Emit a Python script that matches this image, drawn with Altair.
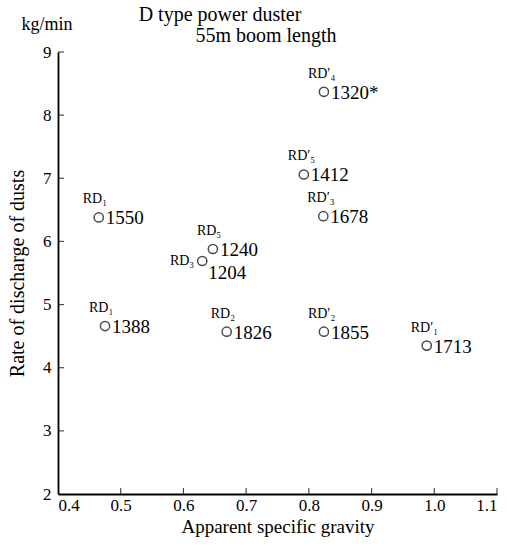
import altair as alt
import pandas as pd

# Dust samples: name, apparent specific gravity, discharge rate (kg/min), sample code
names = ["RD₁", "RD₁", "RD₅", "RD₃", "RD₂", "RD′₂", "RD′₁", "RD′₃", "RD′₅", "RD′₄"]
gravity = [0.465, 0.475, 0.647, 0.630, 0.669, 0.824, 0.988, 0.823, 0.792, 0.824]
rate = [6.38, 4.66, 5.88, 5.69, 4.57, 4.57, 4.35, 6.40, 7.06, 8.37]
codes = ["1550", "1388", "1240", "1204", "1826", "1855", "1713", "1678", "1412", "1320*"]

x_ticks = [0.4, 0.5, 0.6, 0.7, 0.8, 0.9, 1.0, 1.1]
y_ticks = [2, 3, 4, 5, 6, 7, 8, 9]

df = pd.DataFrame({"name": names, "gravity": gravity, "rate": rate, "code": codes})
xt = pd.DataFrame({"t": x_ticks[1:]})
yt = pd.DataFrame({"t": y_ticks[1:]})

FONT = "Liberation Serif, Times New Roman, serif"

xscale = alt.Scale(domain=[0.4, 1.1], nice=False, zero=False)
yscale = alt.Scale(domain=[2, 9], nice=False, zero=False)

x_enc = alt.X(
    "gravity:Q",
    scale=xscale,
    axis=alt.Axis(
        values=x_ticks, format=".1f", ticks=False, grid=False,
        domainColor="black", domainWidth=1.8,
        labelFont=FONT, labelFontSize=17, labelColor="black", labelPadding=3,
        title="Apparent specific gravity", titleFont=FONT, titleFontSize=19,
        titleFontWeight="normal", titleColor="black", titlePadding=4,
    ),
)
y_enc = alt.Y(
    "rate:Q",
    scale=yscale,
    axis=alt.Axis(
        values=y_ticks, format="d", ticks=False, grid=False,
        domainColor="black", domainWidth=1.8,
        labelFont=FONT, labelFontSize=17, labelColor="black", labelPadding=7,
        title="Rate of discharge of dusts", titleFont=FONT, titleFontSize=20,
        titleFontWeight="normal", titleColor="black", titlePadding=15,
    ),
)

base = alt.Chart(df)

points = base.mark_point(
    shape="circle", filled=False, size=85, strokeWidth=1.5, color="black"
).encode(x=x_enc, y=y_enc)

code_right = base.transform_filter("datum.code != '1204'").mark_text(
    align="left", baseline="middle", dx=7, dy=1, font=FONT, fontSize=19, color="black"
).encode(x="gravity:Q", y="rate:Q", text="code:N")

code_below = base.transform_filter("datum.code == '1204'").mark_text(
    align="left", baseline="middle", dx=6, dy=12, font=FONT, fontSize=19, color="black"
).encode(x="gravity:Q", y="rate:Q", text="code:N")

name_above = base.transform_filter("datum.code != '1204'").mark_text(
    align="left", baseline="middle", dx=-16, dy=-18, font=FONT, fontSize=14, color="black"
).encode(x="gravity:Q", y="rate:Q", text="name:N")

name_left = base.transform_filter("datum.code == '1204'").mark_text(
    align="right", baseline="middle", dx=-8, dy=0, font=FONT, fontSize=14, color="black"
).encode(x="gravity:Q", y="rate:Q", text="name:N")

# inward tick marks on both axes
x_tick_marks = alt.Chart(xt).mark_tick(
    orient="vertical", size=6, thickness=1.2, yOffset=-3, color="black"
).encode(x=alt.X("t:Q", scale=xscale), y=alt.datum(2, scale=yscale))

y_tick_marks = alt.Chart(yt).mark_tick(
    orient="horizontal", size=6, thickness=1.2, xOffset=3, color="black"
).encode(y=alt.Y("t:Q", scale=yscale), x=alt.datum(0.4, scale=xscale))

# heading lines and unit label
heading = alt.Chart(pd.DataFrame({"s": ["D type power duster"]})).mark_text(
    font=FONT, fontSize=20, color="black", align="center", baseline="middle"
).encode(text="s:N", x=alt.value(162), y=alt.value(-37))

subheading = alt.Chart(pd.DataFrame({"s": ["55m boom length"]})).mark_text(
    font=FONT, fontSize=20, color="black", align="center", baseline="middle"
).encode(text="s:N", x=alt.value(208), y=alt.value(-16))

unit = alt.Chart(pd.DataFrame({"s": ["kg/min"]})).mark_text(
    font=FONT, fontSize=18, color="black", align="center", baseline="middle"
).encode(text="s:N", x=alt.value(-11), y=alt.value(-27))

chart = alt.layer(
    points, code_right, code_below, name_above, name_left,
    x_tick_marks, y_tick_marks, heading, subheading, unit,
).properties(
    width=439,
    height=442,
    autosize=alt.AutoSizeParams(type="none"),
    padding={"left": 58, "top": 52, "right": 10, "bottom": 52},
    background="white",
).configure_view(stroke=None)

chart.save("out.html", embed_options={"renderer": "svg", "actions": False})
